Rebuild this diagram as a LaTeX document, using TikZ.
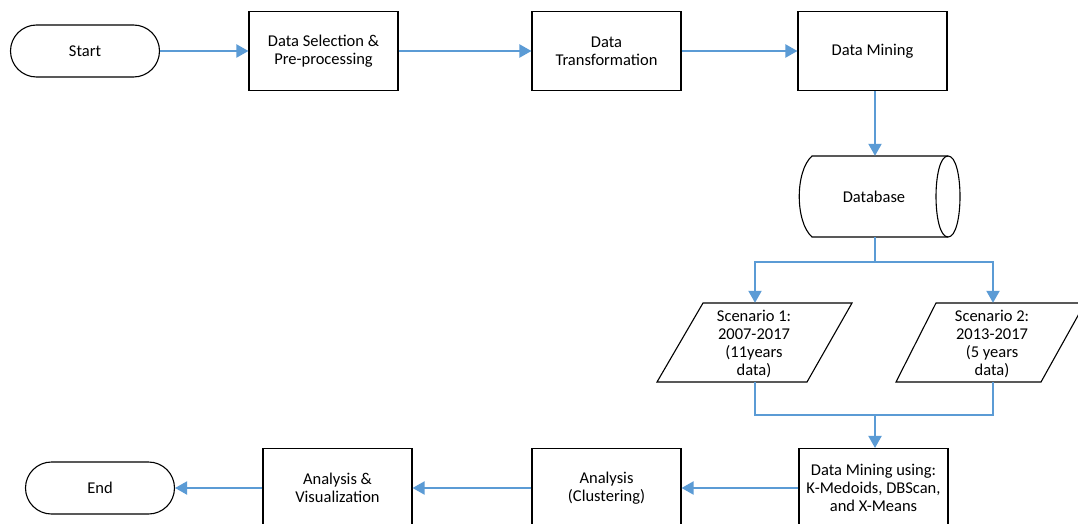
\documentclass[tikz,border=0pt]{standalone}
\usepackage{fontspec}
\setmainfont{Carlito}
\usetikzlibrary{arrows.meta}
\definecolor{arrowblue}{HTML}{5B9BD5}
\tikzset{
  txt/.style={font=\fontsize{16.5}{18}\selectfont},
  procbox/.style={txt, draw=black, line width=1.1pt, fill=white, minimum width=149pt, minimum height=79pt, inner sep=0pt, align=center},
  termbox/.style={txt, draw=black, line width=1.1pt, fill=white, minimum width=149pt, minimum height=52pt, rounded corners=26pt, inner sep=0pt, align=center},
  plainlabel/.style={txt, inner sep=0pt, align=center},
  shapeline/.style={draw=black, line width=1.1pt, fill=white},
  flow/.style={draw=arrowblue, line width=2pt, -{Triangle[length=12pt,width=13pt]}},
  flowline/.style={draw=arrowblue, line width=2pt}
}
\begin{document}
\begin{tikzpicture}[x=1pt,y=-1pt]
\useasboundingbox (0,0) rectangle (1078,524);
\clip (0,0) rectangle (1078,524);
\fill[white] (0,0) rectangle (1078,524);

% top row
\node[termbox] (start) at (85,51) {Start};
\node[procbox] (sel) at (323.5,51) {Data Selection \&\\Pre-processing};
\node[procbox] (trans) at (606.5,51) {Data\\Transformation};
\node[procbox] (mine) at (872.5,51) {Data Mining};

% database
\path[shapeline] (812,156) -- (948,156) .. controls (964,156) and (964,237) .. (948,237) -- (812,237)
  .. controls (795,222) and (795,171) .. (812,156) -- cycle;
\draw[black, line width=1.1pt] (948,156) .. controls (932,156) and (932,237) .. (948,237);
\node[plainlabel, minimum width=161pt, minimum height=81pt] (db) at (875,196.5) {};
\node[plainlabel] at (874,196.5) {Database};

% parallelograms
\path[shapeline] (703,303) -- (852,303) -- (807,382) -- (657,382) -- cycle;
\node[plainlabel, minimum width=100pt, minimum height=79pt] (s1) at (755,342.5) {};
\node[plainlabel] at (754,343.5) {Scenario 1:\\2007-2017\\(11years\\data)};
\path[shapeline] (936,303) -- (1085,303) -- (1041,382) -- (896,382) -- cycle;
\node[plainlabel, minimum width=100pt, minimum height=79pt] (s2) at (993,342.5) {};
\node[plainlabel] at (992,343.5) {Scenario 2:\\2013-2017\\(5 years\\data)};

% bottom row
\node[procbox] (dmu) at (873.5,488) {Data Mining using:\\K-Medoids, DBScan,\\and X-Means};
\node[procbox] (clus) at (606.5,488) {Analysis\\(Clustering)};
\node[procbox] (vis) at (337.5,488) {Analysis \&\\Visualization};
\node[termbox] (end) at (100,488) {End};

% connectors
\draw[flow] (start.east) -- (sel.west);
\draw[flow] (sel.east) -- (trans.west);
\draw[flow] (trans.east) -- (mine.west);
\draw[flow] (mine.south -| db.north) -- (db.north);
\coordinate (split) at (875,262);
\draw[flowline] (db.south) -- (split);
\draw[flow] (split) -| (s1.north);
\draw[flow] (split) -| (s2.north);
\coordinate (join) at (875,415);
\draw[flowline] (s1.south) |- (join);
\draw[flowline] (s2.south) |- (join);
\draw[flow] (join) -- (join |- dmu.north);
\draw[flow] (dmu.west) -- (clus.east);
\draw[flow] (clus.west) -- (vis.east);
\draw[flow] (vis.west) -- (end.east);
\end{tikzpicture}
\end{document}
